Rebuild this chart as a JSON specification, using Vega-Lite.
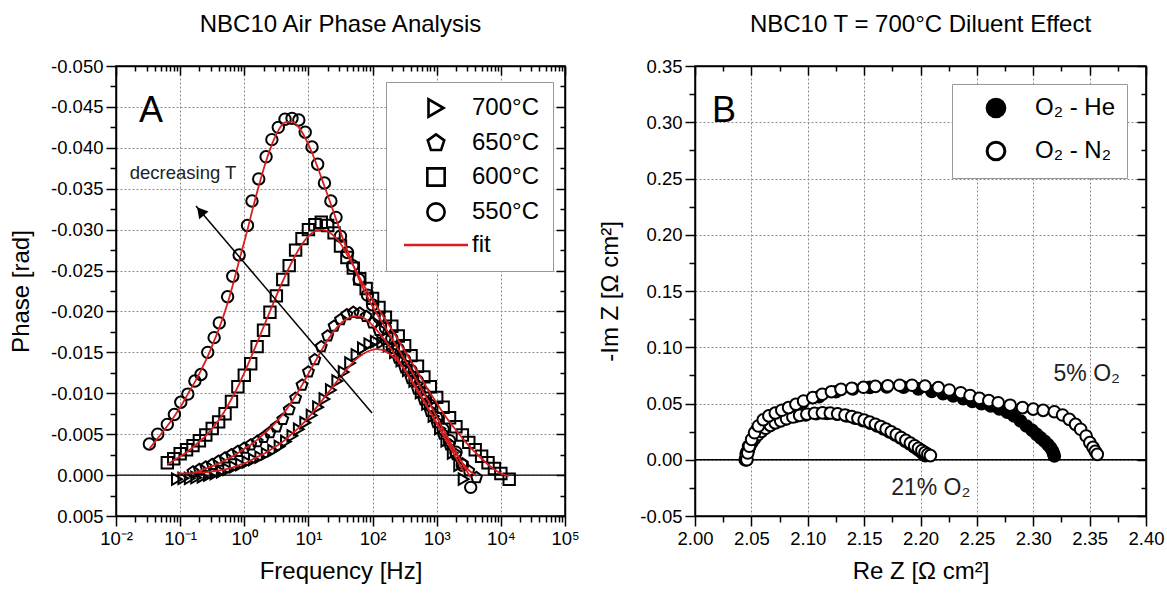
{
  "$schema": "https://vega.github.io/schema/vega-lite/v6.json",
  "padding": {"left": 8, "top": 12, "right": 2, "bottom": 5},
  "spacing": 18,
  "config": {
    "font": "Liberation Sans",
    "view": {"stroke": "black", "strokeWidth": 1.5},
    "axis": {
      "labelFont": "Liberation Sans", "labelFontSize": 18.5, "labelColor": "black",
      "titleFont": "Liberation Sans", "titleFontSize": 24, "titleFontWeight": "normal", "titleColor": "black",
      "domainColor": "black", "domainWidth": 1.5, "tickColor": "black", "tickWidth": 1.5,
      "gridColor": "#8a8a8a", "gridDash": [2, 2], "gridWidth": 1
    },
    "title": {"font": "Liberation Sans", "fontSize": 24, "fontWeight": "normal", "color": "black", "offset": 20},
    "legend": {"labelFont": "Liberation Sans", "labelColor": "black"}
  },
  "datasets": {
    "phase": [
      {"s":"700°C","f":0.0891,"p":0.0005,"fit":-0.0002},
      {"s":"700°C","f":0.1122,"p":0.0004,"fit":-0.0002},
      {"s":"700°C","f":0.1413,"p":0.0004,"fit":-0.0002},
      {"s":"700°C","f":0.1778,"p":0.0003,"fit":-0.0003},
      {"s":"700°C","f":0.2239,"p":0.0002,"fit":-0.0003},
      {"s":"700°C","f":0.2818,"p":0.0000,"fit":-0.0004},
      {"s":"700°C","f":0.3548,"p":-0.0002,"fit":-0.0005},
      {"s":"700°C","f":0.4467,"p":-0.0004,"fit":-0.0006},
      {"s":"700°C","f":0.5623,"p":-0.0007,"fit":-0.0008},
      {"s":"700°C","f":0.7079,"p":-0.0010,"fit":-0.0010},
      {"s":"700°C","f":0.8913,"p":-0.0013,"fit":-0.0013},
      {"s":"700°C","f":1.122,"p":-0.0016,"fit":-0.0016},
      {"s":"700°C","f":1.413,"p":-0.0019,"fit":-0.0020},
      {"s":"700°C","f":1.778,"p":-0.0022,"fit":-0.0024},
      {"s":"700°C","f":2.239,"p":-0.0026,"fit":-0.0028},
      {"s":"700°C","f":2.818,"p":-0.0030,"fit":-0.0033},
      {"s":"700°C","f":3.548,"p":-0.0035,"fit":-0.0038},
      {"s":"700°C","f":4.467,"p":-0.0041,"fit":-0.0044},
      {"s":"700°C","f":5.623,"p":-0.0048,"fit":-0.0051},
      {"s":"700°C","f":7.079,"p":-0.0056,"fit":-0.0058},
      {"s":"700°C","f":8.913,"p":-0.0064,"fit":-0.0066},
      {"s":"700°C","f":11.22,"p":-0.0073,"fit":-0.0075},
      {"s":"700°C","f":14.13,"p":-0.0083,"fit":-0.0085},
      {"s":"700°C","f":17.78,"p":-0.0093,"fit":-0.0095},
      {"s":"700°C","f":22.39,"p":-0.0104,"fit":-0.0105},
      {"s":"700°C","f":28.18,"p":-0.0115,"fit":-0.0115},
      {"s":"700°C","f":35.48,"p":-0.0126,"fit":-0.0125},
      {"s":"700°C","f":44.67,"p":-0.0137,"fit":-0.0134},
      {"s":"700°C","f":56.23,"p":-0.0147,"fit":-0.0142},
      {"s":"700°C","f":70.79,"p":-0.0155,"fit":-0.0148},
      {"s":"700°C","f":89.13,"p":-0.0160,"fit":-0.0152},
      {"s":"700°C","f":112.2,"p":-0.0163,"fit":-0.0154},
      {"s":"700°C","f":141.3,"p":-0.0162,"fit":-0.0153},
      {"s":"700°C","f":177.8,"p":-0.0158,"fit":-0.0149},
      {"s":"700°C","f":223.9,"p":-0.0150,"fit":-0.0143},
      {"s":"700°C","f":281.8,"p":-0.0140,"fit":-0.0134},
      {"s":"700°C","f":354.8,"p":-0.0128,"fit":-0.0123},
      {"s":"700°C","f":446.7,"p":-0.0115,"fit":-0.0111},
      {"s":"700°C","f":562.3,"p":-0.0101,"fit":-0.0098},
      {"s":"700°C","f":707.9,"p":-0.0087,"fit":-0.0084},
      {"s":"700°C","f":891.3,"p":-0.0072,"fit":-0.0070},
      {"s":"700°C","f":1122,"p":-0.0057,"fit":-0.0056},
      {"s":"700°C","f":1413,"p":-0.0042,"fit":-0.0042},
      {"s":"700°C","f":1778,"p":-0.0027,"fit":-0.0028},
      {"s":"700°C","f":2239,"p":-0.0012,"fit":-0.0014},
      {"s":"700°C","f":2630,"p":0.0005,"fit":-0.0004},

      {"s":"650°C","f":0.1585,"p":-0.0004,"fit":-0.0003},
      {"s":"650°C","f":0.1995,"p":-0.0007,"fit":-0.0005},
      {"s":"650°C","f":0.2512,"p":-0.0010,"fit":-0.0008},
      {"s":"650°C","f":0.3162,"p":-0.0013,"fit":-0.0011},
      {"s":"650°C","f":0.3981,"p":-0.0017,"fit":-0.0014},
      {"s":"650°C","f":0.5012,"p":-0.0021,"fit":-0.0018},
      {"s":"650°C","f":0.631,"p":-0.0025,"fit":-0.0022},
      {"s":"650°C","f":0.7943,"p":-0.0029,"fit":-0.0027},
      {"s":"650°C","f":1,"p":-0.0033,"fit":-0.0032},
      {"s":"650°C","f":1.259,"p":-0.0037,"fit":-0.0037},
      {"s":"650°C","f":1.585,"p":-0.0041,"fit":-0.0043},
      {"s":"650°C","f":1.995,"p":-0.0046,"fit":-0.0050},
      {"s":"650°C","f":2.512,"p":-0.0052,"fit":-0.0057},
      {"s":"650°C","f":3.162,"p":-0.0059,"fit":-0.0065},
      {"s":"650°C","f":3.981,"p":-0.0068,"fit":-0.0074},
      {"s":"650°C","f":5.012,"p":-0.0080,"fit":-0.0085},
      {"s":"650°C","f":6.31,"p":-0.0094,"fit":-0.0097},
      {"s":"650°C","f":7.943,"p":-0.0110,"fit":-0.0110},
      {"s":"650°C","f":10,"p":-0.0126,"fit":-0.0124},
      {"s":"650°C","f":12.59,"p":-0.0141,"fit":-0.0138},
      {"s":"650°C","f":15.85,"p":-0.0157,"fit":-0.0152},
      {"s":"650°C","f":19.95,"p":-0.0170,"fit":-0.0165},
      {"s":"650°C","f":25.12,"p":-0.0182,"fit":-0.0176},
      {"s":"650°C","f":31.62,"p":-0.0190,"fit":-0.0185},
      {"s":"650°C","f":39.81,"p":-0.0196,"fit":-0.0191},
      {"s":"650°C","f":50.12,"p":-0.0199,"fit":-0.0194},
      {"s":"650°C","f":63.1,"p":-0.0198,"fit":-0.0194},
      {"s":"650°C","f":79.43,"p":-0.0194,"fit":-0.0190},
      {"s":"650°C","f":100,"p":-0.0186,"fit":-0.0183},
      {"s":"650°C","f":125.9,"p":-0.0177,"fit":-0.0174},
      {"s":"650°C","f":158.5,"p":-0.0166,"fit":-0.0164},
      {"s":"650°C","f":199.5,"p":-0.0155,"fit":-0.0153},
      {"s":"650°C","f":251.2,"p":-0.0143,"fit":-0.0141},
      {"s":"650°C","f":316.2,"p":-0.0131,"fit":-0.0129},
      {"s":"650°C","f":398.1,"p":-0.0118,"fit":-0.0116},
      {"s":"650°C","f":501.2,"p":-0.0105,"fit":-0.0103},
      {"s":"650°C","f":631,"p":-0.0092,"fit":-0.0090},
      {"s":"650°C","f":794.3,"p":-0.0078,"fit":-0.0077},
      {"s":"650°C","f":1000,"p":-0.0064,"fit":-0.0064},
      {"s":"650°C","f":1259,"p":-0.0050,"fit":-0.0051},
      {"s":"650°C","f":1585,"p":-0.0037,"fit":-0.0038},
      {"s":"650°C","f":1995,"p":-0.0025,"fit":-0.0026},
      {"s":"650°C","f":2512,"p":-0.0014,"fit":-0.0015},
      {"s":"650°C","f":3162,"p":-0.0005,"fit":-0.0006},
      {"s":"650°C","f":4169,"p":0.0003,"fit":0.0001},

      {"s":"600°C","f":0.0631,"p":-0.0015,"fit":-0.0013},
      {"s":"600°C","f":0.0794,"p":-0.0020,"fit":-0.0018},
      {"s":"600°C","f":0.1,"p":-0.0026,"fit":-0.0023},
      {"s":"600°C","f":0.1259,"p":-0.0031,"fit":-0.0028},
      {"s":"600°C","f":0.1585,"p":-0.0036,"fit":-0.0034},
      {"s":"600°C","f":0.1995,"p":-0.0042,"fit":-0.0041},
      {"s":"600°C","f":0.2512,"p":-0.0049,"fit":-0.0048},
      {"s":"600°C","f":0.3162,"p":-0.0057,"fit":-0.0057},
      {"s":"600°C","f":0.3981,"p":-0.0065,"fit":-0.0067},
      {"s":"600°C","f":0.5012,"p":-0.0075,"fit":-0.0079},
      {"s":"600°C","f":0.631,"p":-0.0090,"fit":-0.0093},
      {"s":"600°C","f":0.7943,"p":-0.0108,"fit":-0.0108},
      {"s":"600°C","f":1,"p":-0.0122,"fit":-0.0125},
      {"s":"600°C","f":1.259,"p":-0.0136,"fit":-0.0143},
      {"s":"600°C","f":1.585,"p":-0.0157,"fit":-0.0162},
      {"s":"600°C","f":1.995,"p":-0.0177,"fit":-0.0181},
      {"s":"600°C","f":2.512,"p":-0.0199,"fit":-0.0200},
      {"s":"600°C","f":3.162,"p":-0.0219,"fit":-0.0219},
      {"s":"600°C","f":3.981,"p":-0.0239,"fit":-0.0237},
      {"s":"600°C","f":5.012,"p":-0.0256,"fit":-0.0254},
      {"s":"600°C","f":6.31,"p":-0.0275,"fit":-0.0269},
      {"s":"600°C","f":7.943,"p":-0.0289,"fit":-0.0282},
      {"s":"600°C","f":10,"p":-0.0300,"fit":-0.0292},
      {"s":"600°C","f":12.59,"p":-0.0306,"fit":-0.0298},
      {"s":"600°C","f":15.85,"p":-0.0309,"fit":-0.0300},
      {"s":"600°C","f":19.95,"p":-0.0305,"fit":-0.0298},
      {"s":"600°C","f":25.12,"p":-0.0296,"fit":-0.0292},
      {"s":"600°C","f":31.62,"p":-0.0280,"fit":-0.0283},
      {"s":"600°C","f":39.81,"p":-0.0266,"fit":-0.0270},
      {"s":"600°C","f":50.12,"p":-0.0253,"fit":-0.0256},
      {"s":"600°C","f":63.1,"p":-0.0240,"fit":-0.0241},
      {"s":"600°C","f":79.43,"p":-0.0228,"fit":-0.0227},
      {"s":"600°C","f":100,"p":-0.0216,"fit":-0.0214},
      {"s":"600°C","f":125.9,"p":-0.0205,"fit":-0.0202},
      {"s":"600°C","f":158.5,"p":-0.0193,"fit":-0.0190},
      {"s":"600°C","f":199.5,"p":-0.0182,"fit":-0.0178},
      {"s":"600°C","f":251.2,"p":-0.0170,"fit":-0.0165},
      {"s":"600°C","f":316.2,"p":-0.0158,"fit":-0.0152},
      {"s":"600°C","f":398.1,"p":-0.0146,"fit":-0.0139},
      {"s":"600°C","f":501.2,"p":-0.0133,"fit":-0.0126},
      {"s":"600°C","f":631,"p":-0.0120,"fit":-0.0113},
      {"s":"600°C","f":794.3,"p":-0.0108,"fit":-0.0100},
      {"s":"600°C","f":1000,"p":-0.0095,"fit":-0.0088},
      {"s":"600°C","f":1259,"p":-0.0083,"fit":-0.0076},
      {"s":"600°C","f":1585,"p":-0.0070,"fit":-0.0065},
      {"s":"600°C","f":1995,"p":-0.0059,"fit":-0.0055},
      {"s":"600°C","f":2512,"p":-0.0049,"fit":-0.0045},
      {"s":"600°C","f":3162,"p":-0.0040,"fit":-0.0036},
      {"s":"600°C","f":3981,"p":-0.0031,"fit":-0.0028},
      {"s":"600°C","f":5012,"p":-0.0023,"fit":-0.0020},
      {"s":"600°C","f":6310,"p":-0.0015,"fit":-0.0013},
      {"s":"600°C","f":7943,"p":-0.0008,"fit":-0.0007},
      {"s":"600°C","f":10000,"p":-0.0002,"fit":-0.0002},
      {"s":"600°C","f":13490,"p":0.0005,"fit":0.0001},

      {"s":"550°C","f":0.0331,"p":-0.0038,"fit":-0.0032},
      {"s":"550°C","f":0.0447,"p":-0.0050,"fit":-0.0045},
      {"s":"550°C","f":0.0631,"p":-0.0062,"fit":-0.0060},
      {"s":"550°C","f":0.0813,"p":-0.0074,"fit":-0.0072},
      {"s":"550°C","f":0.1023,"p":-0.0089,"fit":-0.0084},
      {"s":"550°C","f":0.1318,"p":-0.0099,"fit":-0.0099},
      {"s":"550°C","f":0.1698,"p":-0.0115,"fit":-0.0114},
      {"s":"550°C","f":0.2113,"p":-0.0123,"fit":-0.0128},
      {"s":"550°C","f":0.2692,"p":-0.0150,"fit":-0.0145},
      {"s":"550°C","f":0.3388,"p":-0.0168,"fit":-0.0164},
      {"s":"550°C","f":0.4074,"p":-0.0186,"fit":-0.0180},
      {"s":"550°C","f":0.5495,"p":-0.0218,"fit":-0.0210},
      {"s":"550°C","f":0.6607,"p":-0.0243,"fit":-0.0232},
      {"s":"550°C","f":0.8318,"p":-0.0269,"fit":-0.0262},
      {"s":"550°C","f":1.122,"p":-0.0305,"fit":-0.0300},
      {"s":"550°C","f":1.318,"p":-0.0335,"fit":-0.0322},
      {"s":"550°C","f":1.679,"p":-0.0362,"fit":-0.0353},
      {"s":"550°C","f":2.188,"p":-0.0389,"fit":-0.0384},
      {"s":"550°C","f":2.692,"p":-0.0410,"fit":-0.0404},
      {"s":"550°C","f":3.388,"p":-0.0425,"fit":-0.0421},
      {"s":"550°C","f":4.315,"p":-0.0435,"fit":-0.0431},
      {"s":"550°C","f":5.546,"p":-0.0436,"fit":-0.0432},
      {"s":"550°C","f":7.079,"p":-0.0434,"fit":-0.0425},
      {"s":"550°C","f":8.913,"p":-0.0419,"fit":-0.0412},
      {"s":"550°C","f":11.38,"p":-0.0401,"fit":-0.0394},
      {"s":"550°C","f":13.93,"p":-0.0380,"fit":-0.0376},
      {"s":"550°C","f":17.78,"p":-0.0357,"fit":-0.0353},
      {"s":"550°C","f":22.39,"p":-0.0335,"fit":-0.0331},
      {"s":"550°C","f":26.92,"p":-0.0315,"fit":-0.0313},
      {"s":"550°C","f":31.62,"p":-0.0292,"fit":-0.0297},
      {"s":"550°C","f":40.74,"p":-0.0272,"fit":-0.0274},
      {"s":"550°C","f":48.98,"p":-0.0256,"fit":-0.0258},
      {"s":"550°C","f":61.66,"p":-0.0239,"fit":-0.0239},
      {"s":"550°C","f":83.18,"p":-0.0220,"fit":-0.0218},
      {"s":"550°C","f":100,"p":-0.0208,"fit":-0.0206},
      {"s":"550°C","f":125.9,"p":-0.0193,"fit":-0.0193},
      {"s":"550°C","f":158.5,"p":-0.0180,"fit":-0.0180},
      {"s":"550°C","f":199.5,"p":-0.0167,"fit":-0.0167},
      {"s":"550°C","f":251.2,"p":-0.0154,"fit":-0.0154},
      {"s":"550°C","f":316.2,"p":-0.0141,"fit":-0.0141},
      {"s":"550°C","f":398.1,"p":-0.0128,"fit":-0.0128},
      {"s":"550°C","f":501.2,"p":-0.0115,"fit":-0.0114},
      {"s":"550°C","f":631,"p":-0.0100,"fit":-0.0100},
      {"s":"550°C","f":794.3,"p":-0.0085,"fit":-0.0086},
      {"s":"550°C","f":1000,"p":-0.0070,"fit":-0.0071},
      {"s":"550°C","f":1259,"p":-0.0056,"fit":-0.0056},
      {"s":"550°C","f":1585,"p":-0.0042,"fit":-0.0042},
      {"s":"550°C","f":1995,"p":-0.0028,"fit":-0.0028},
      {"s":"550°C","f":2512,"p":-0.0012,"fit":-0.0014},
      {"s":"550°C","f":3388,"p":0.0015,"fit":0.0003}
    ],
    "nyq": [
      {"g":"O₂ - He","c":"21%","re":2.0445,"im":0.0000},
      {"g":"O₂ - He","c":"21%","re":2.0455,"im":0.0060},
      {"g":"O₂ - He","c":"21%","re":2.0475,"im":0.0120},
      {"g":"O₂ - He","c":"21%","re":2.0505,"im":0.0175},
      {"g":"O₂ - He","c":"21%","re":2.0545,"im":0.0225},
      {"g":"O₂ - He","c":"21%","re":2.0595,"im":0.0268},
      {"g":"O₂ - He","c":"21%","re":2.0655,"im":0.0305},
      {"g":"O₂ - He","c":"21%","re":2.0725,"im":0.0337},
      {"g":"O₂ - He","c":"21%","re":2.0805,"im":0.0363},
      {"g":"O₂ - He","c":"21%","re":2.0890,"im":0.0384},
      {"g":"O₂ - He","c":"21%","re":2.0980,"im":0.0399},
      {"g":"O₂ - He","c":"21%","re":2.1075,"im":0.0409},
      {"g":"O₂ - He","c":"21%","re":2.1170,"im":0.0411},
      {"g":"O₂ - He","c":"21%","re":2.1260,"im":0.0404},
      {"g":"O₂ - He","c":"21%","re":2.1345,"im":0.0390},
      {"g":"O₂ - He","c":"21%","re":2.1420,"im":0.0370},
      {"g":"O₂ - He","c":"21%","re":2.1490,"im":0.0348},
      {"g":"O₂ - He","c":"21%","re":2.1555,"im":0.0325},
      {"g":"O₂ - He","c":"21%","re":2.1615,"im":0.0300},
      {"g":"O₂ - He","c":"21%","re":2.1672,"im":0.0274},
      {"g":"O₂ - He","c":"21%","re":2.1725,"im":0.0247},
      {"g":"O₂ - He","c":"21%","re":2.1775,"im":0.0220},
      {"g":"O₂ - He","c":"21%","re":2.1822,"im":0.0193},
      {"g":"O₂ - He","c":"21%","re":2.1865,"im":0.0166},
      {"g":"O₂ - He","c":"21%","re":2.1905,"im":0.0140},
      {"g":"O₂ - He","c":"21%","re":2.1942,"im":0.0115},
      {"g":"O₂ - He","c":"21%","re":2.1975,"im":0.0092},
      {"g":"O₂ - He","c":"21%","re":2.2003,"im":0.0071},
      {"g":"O₂ - He","c":"21%","re":2.2025,"im":0.0052},
      {"g":"O₂ - He","c":"21%","re":2.2042,"im":0.0037},

      {"g":"O₂ - He","c":"5%","re":2.0460,"im":0.0000},
      {"g":"O₂ - He","c":"5%","re":2.0475,"im":0.0090},
      {"g":"O₂ - He","c":"5%","re":2.0505,"im":0.0180},
      {"g":"O₂ - He","c":"5%","re":2.0550,"im":0.0270},
      {"g":"O₂ - He","c":"5%","re":2.0620,"im":0.0350},
      {"g":"O₂ - He","c":"5%","re":2.0710,"im":0.0410},
      {"g":"O₂ - He","c":"5%","re":2.0820,"im":0.0455},
      {"g":"O₂ - He","c":"5%","re":2.0950,"im":0.0505},
      {"g":"O₂ - He","c":"5%","re":2.1100,"im":0.0560},
      {"g":"O₂ - He","c":"5%","re":2.1250,"im":0.0605},
      {"g":"O₂ - He","c":"5%","re":2.1400,"im":0.0630},
      {"g":"O₂ - He","c":"5%","re":2.1550,"im":0.0643},
      {"g":"O₂ - He","c":"5%","re":2.1700,"im":0.0648},
      {"g":"O₂ - He","c":"5%","re":2.1850,"im":0.0645},
      {"g":"O₂ - He","c":"5%","re":2.1980,"im":0.0630},
      {"g":"O₂ - He","c":"5%","re":2.2100,"im":0.0608},
      {"g":"O₂ - He","c":"5%","re":2.2200,"im":0.0588},
      {"g":"O₂ - He","c":"5%","re":2.2290,"im":0.0567},
      {"g":"O₂ - He","c":"5%","re":2.2380,"im":0.0543},
      {"g":"O₂ - He","c":"5%","re":2.2460,"im":0.0518},
      {"g":"O₂ - He","c":"5%","re":2.2540,"im":0.0498},
      {"g":"O₂ - He","c":"5%","re":2.2623,"im":0.0478},
      {"g":"O₂ - He","c":"5%","re":2.2700,"im":0.0452},
      {"g":"O₂ - He","c":"5%","re":2.2770,"im":0.0422},
      {"g":"O₂ - He","c":"5%","re":2.2830,"im":0.0390},
      {"g":"O₂ - He","c":"5%","re":2.2888,"im":0.0344},
      {"g":"O₂ - He","c":"5%","re":2.2940,"im":0.0300},
      {"g":"O₂ - He","c":"5%","re":2.2990,"im":0.0262},
      {"g":"O₂ - He","c":"5%","re":2.3030,"im":0.0226},
      {"g":"O₂ - He","c":"5%","re":2.3065,"im":0.0195},
      {"g":"O₂ - He","c":"5%","re":2.3100,"im":0.0165},
      {"g":"O₂ - He","c":"5%","re":2.3130,"im":0.0135},
      {"g":"O₂ - He","c":"5%","re":2.3154,"im":0.0107},
      {"g":"O₂ - He","c":"5%","re":2.3170,"im":0.0080},
      {"g":"O₂ - He","c":"5%","re":2.3180,"im":0.0055},
      {"g":"O₂ - He","c":"5%","re":2.3187,"im":0.0033},

      {"g":"O₂ - N₂","c":"21%","re":2.0448,"im":0.0000},
      {"g":"O₂ - N₂","c":"21%","re":2.0455,"im":0.0040},
      {"g":"O₂ - N₂","c":"21%","re":2.0468,"im":0.0080},
      {"g":"O₂ - N₂","c":"21%","re":2.0485,"im":0.0120},
      {"g":"O₂ - N₂","c":"21%","re":2.0505,"im":0.0155},
      {"g":"O₂ - N₂","c":"21%","re":2.0530,"im":0.0190},
      {"g":"O₂ - N₂","c":"21%","re":2.0558,"im":0.0222},
      {"g":"O₂ - N₂","c":"21%","re":2.0590,"im":0.0252},
      {"g":"O₂ - N₂","c":"21%","re":2.0627,"im":0.0280},
      {"g":"O₂ - N₂","c":"21%","re":2.0668,"im":0.0305},
      {"g":"O₂ - N₂","c":"21%","re":2.0712,"im":0.0327},
      {"g":"O₂ - N₂","c":"21%","re":2.0760,"im":0.0346},
      {"g":"O₂ - N₂","c":"21%","re":2.0812,"im":0.0364},
      {"g":"O₂ - N₂","c":"21%","re":2.0868,"im":0.0380},
      {"g":"O₂ - N₂","c":"21%","re":2.0928,"im":0.0394},
      {"g":"O₂ - N₂","c":"21%","re":2.0992,"im":0.0405},
      {"g":"O₂ - N₂","c":"21%","re":2.1060,"im":0.0413},
      {"g":"O₂ - N₂","c":"21%","re":2.1130,"im":0.0417},
      {"g":"O₂ - N₂","c":"21%","re":2.1200,"im":0.0415},
      {"g":"O₂ - N₂","c":"21%","re":2.1265,"im":0.0408},
      {"g":"O₂ - N₂","c":"21%","re":2.1330,"im":0.0397},
      {"g":"O₂ - N₂","c":"21%","re":2.1390,"im":0.0383},
      {"g":"O₂ - N₂","c":"21%","re":2.1445,"im":0.0368},
      {"g":"O₂ - N₂","c":"21%","re":2.1500,"im":0.0352},
      {"g":"O₂ - N₂","c":"21%","re":2.1550,"im":0.0335},
      {"g":"O₂ - N₂","c":"21%","re":2.1600,"im":0.0316},
      {"g":"O₂ - N₂","c":"21%","re":2.1648,"im":0.0295},
      {"g":"O₂ - N₂","c":"21%","re":2.1695,"im":0.0272},
      {"g":"O₂ - N₂","c":"21%","re":2.1740,"im":0.0248},
      {"g":"O₂ - N₂","c":"21%","re":2.1785,"im":0.0223},
      {"g":"O₂ - N₂","c":"21%","re":2.1828,"im":0.0198},
      {"g":"O₂ - N₂","c":"21%","re":2.1870,"im":0.0173},
      {"g":"O₂ - N₂","c":"21%","re":2.1910,"im":0.0148},
      {"g":"O₂ - N₂","c":"21%","re":2.1948,"im":0.0124},
      {"g":"O₂ - N₂","c":"21%","re":2.1982,"im":0.0102},
      {"g":"O₂ - N₂","c":"21%","re":2.2012,"im":0.0082},
      {"g":"O₂ - N₂","c":"21%","re":2.2040,"im":0.0064},
      {"g":"O₂ - N₂","c":"21%","re":2.2065,"im":0.0049},
      {"g":"O₂ - N₂","c":"21%","re":2.2088,"im":0.0037},

      {"g":"O₂ - N₂","c":"5%","re":2.0460,"im":0.0000},
      {"g":"O₂ - N₂","c":"5%","re":2.0468,"im":0.0060},
      {"g":"O₂ - N₂","c":"5%","re":2.0482,"im":0.0120},
      {"g":"O₂ - N₂","c":"5%","re":2.0502,"im":0.0180},
      {"g":"O₂ - N₂","c":"5%","re":2.0528,"im":0.0240},
      {"g":"O₂ - N₂","c":"5%","re":2.0562,"im":0.0300},
      {"g":"O₂ - N₂","c":"5%","re":2.0605,"im":0.0355},
      {"g":"O₂ - N₂","c":"5%","re":2.0655,"im":0.0390},
      {"g":"O₂ - N₂","c":"5%","re":2.0712,"im":0.0415},
      {"g":"O₂ - N₂","c":"5%","re":2.0770,"im":0.0440},
      {"g":"O₂ - N₂","c":"5%","re":2.0830,"im":0.0463},
      {"g":"O₂ - N₂","c":"5%","re":2.0895,"im":0.0493},
      {"g":"O₂ - N₂","c":"5%","re":2.0963,"im":0.0522},
      {"g":"O₂ - N₂","c":"5%","re":2.1045,"im":0.0552},
      {"g":"O₂ - N₂","c":"5%","re":2.1129,"im":0.0582},
      {"g":"O₂ - N₂","c":"5%","re":2.1210,"im":0.0605},
      {"g":"O₂ - N₂","c":"5%","re":2.1295,"im":0.0626},
      {"g":"O₂ - N₂","c":"5%","re":2.1390,"im":0.0636},
      {"g":"O₂ - N₂","c":"5%","re":2.1494,"im":0.0644},
      {"g":"O₂ - N₂","c":"5%","re":2.1600,"im":0.0652},
      {"g":"O₂ - N₂","c":"5%","re":2.1710,"im":0.0658},
      {"g":"O₂ - N₂","c":"5%","re":2.1815,"im":0.0662},
      {"g":"O₂ - N₂","c":"5%","re":2.1925,"im":0.0662},
      {"g":"O₂ - N₂","c":"5%","re":2.2040,"im":0.0654},
      {"g":"O₂ - N₂","c":"5%","re":2.2158,"im":0.0641},
      {"g":"O₂ - N₂","c":"5%","re":2.2255,"im":0.0620},
      {"g":"O₂ - N₂","c":"5%","re":2.2357,"im":0.0596},
      {"g":"O₂ - N₂","c":"5%","re":2.2440,"im":0.0571},
      {"g":"O₂ - N₂","c":"5%","re":2.2523,"im":0.0546},
      {"g":"O₂ - N₂","c":"5%","re":2.2606,"im":0.0526},
      {"g":"O₂ - N₂","c":"5%","re":2.2689,"im":0.0507},
      {"g":"O₂ - N₂","c":"5%","re":2.2795,"im":0.0485},
      {"g":"O₂ - N₂","c":"5%","re":2.2905,"im":0.0463},
      {"g":"O₂ - N₂","c":"5%","re":2.3000,"im":0.0450},
      {"g":"O₂ - N₂","c":"5%","re":2.3088,"im":0.0439},
      {"g":"O₂ - N₂","c":"5%","re":2.3187,"im":0.0427},
      {"g":"O₂ - N₂","c":"5%","re":2.3260,"im":0.0398},
      {"g":"O₂ - N₂","c":"5%","re":2.3320,"im":0.0359},
      {"g":"O₂ - N₂","c":"5%","re":2.3375,"im":0.0315},
      {"g":"O₂ - N₂","c":"5%","re":2.3420,"im":0.0271},
      {"g":"O₂ - N₂","c":"5%","re":2.3469,"im":0.0211},
      {"g":"O₂ - N₂","c":"5%","re":2.3502,"im":0.0152},
      {"g":"O₂ - N₂","c":"5%","re":2.3530,"im":0.0110},
      {"g":"O₂ - N₂","c":"5%","re":2.3550,"im":0.0075},
      {"g":"O₂ - N₂","c":"5%","re":2.3568,"im":0.0048}
    ]
  },
  "resolve": {
    "scale": {"shape": "independent", "stroke": "independent", "fill": "independent"},
    "legend": {"shape": "independent", "stroke": "independent", "fill": "independent"}
  },
  "hconcat": [
    {
      "width": 449,
      "height": 450,
      "title": {"text": "NBC10 Air Phase Analysis", "anchor": "middle", "frame": "group"},
      "resolve": {"axis": {"x": "independent", "y": "independent"}},
      "layer": [
        {
          "data": {"values": [{"p": 0}]},
          "mark": {"type": "rule", "color": "black", "strokeWidth": 1.3},
          "encoding": {
            "y": {"field": "p", "type": "quantitative", "axis": null}
          }
        },
        {
          "data": {"name": "phase"},
          "mark": {"type": "point", "filled": false, "strokeWidth": 2, "size": 130, "opacity": 1},
          "encoding": {
            "x": {
              "field": "f", "type": "quantitative",
              "scale": {"type": "log", "domain": [0.01, 100000], "nice": false},
              "axis": {
                "title": "Frequency [Hz]", "titlePadding": 12,
                "values": [0.01,0.02,0.03,0.04,0.05,0.06,0.07,0.08,0.09,0.1,0.2,0.3,0.4,0.5,0.6,0.7,0.8,0.9,1,2,3,4,5,6,7,8,9,10,20,30,40,50,60,70,80,90,100,200,300,400,500,600,700,800,900,1000,2000,3000,4000,5000,6000,7000,8000,9000,10000,20000,30000,40000,50000,60000,70000,80000,90000,100000],
                "labelExpr": "abs(log(datum.value)/LN10 - round(log(datum.value)/LN10)) < 0.001 ? ['10⁻²','10⁻¹','10⁰','10¹','10²','10³','10⁴','10⁵'][round(log(datum.value)/LN10)+2] : ''",
                "labelPadding": 3, "labelFlush": false, "labelOverlap": false,
                "grid": true,
                "gridOpacity": {"condition": {"test": "abs(log(datum.value)/LN10 - round(log(datum.value)/LN10)) < 0.001", "value": 1}, "value": 0},
                "tickSize": {"condition": {"test": "abs(log(datum.value)/LN10 - round(log(datum.value)/LN10)) < 0.001", "value": 10}, "value": 6}
              }
            },
            "y": {
              "field": "p", "type": "quantitative",
              "scale": {"domain": [-0.05, 0.005], "reverse": true, "nice": false, "zero": false},
              "axis": {
                "title": "Phase [rad]", "titlePadding": 17,
                "values": [-0.05,-0.0475,-0.045,-0.0425,-0.04,-0.0375,-0.035,-0.0325,-0.03,-0.0275,-0.025,-0.0225,-0.02,-0.0175,-0.015,-0.0125,-0.01,-0.0075,-0.005,-0.0025,0,0.0025,0.005],
                "labelExpr": "abs(datum.value*200 - round(datum.value*200)) < 0.001 ? replace(format(datum.value, '.3f'), '−', '-') : ''",
                "labelPadding": 3, "labelOverlap": false,
                "grid": true,
                "gridOpacity": {"condition": {"test": "abs(datum.value*200 - round(datum.value*200)) < 0.001", "value": 1}, "value": 0},
                "tickSize": {"condition": {"test": "abs(datum.value*200 - round(datum.value*200)) < 0.001", "value": 10}, "value": 6}
              }
            },
            "shape": {
              "field": "s", "type": "nominal",
              "scale": {
                "domain": ["700°C", "650°C", "600°C", "550°C", "fit"],
                "range": ["triangle-right", "M0,-1L0.951,-0.309L0.588,0.809L-0.588,0.809L-0.951,-0.309Z", "square", "circle", "M-3.7,0L3.7,0"]
              },
              "legend": {
                "title": null, "orient": "none", "legendX": 270, "legendY": 16,
                "padding": 14, "strokeColor": "#999", "fillColor": "white",
                "symbolSize": 300, "symbolStrokeWidth": 2.6, "symbolOffset": 24, "labelOffset": 24,
                "labelFontSize": 24, "rowPadding": 7, "symbolType": "circle"
              }
            },
            "stroke": {
              "field": "s", "type": "nominal",
              "scale": {
                "domain": ["700°C", "650°C", "600°C", "550°C", "fit"],
                "range": ["black", "black", "black", "black", "#d81e1e"]
              },
              "legend": {
                "title": null, "orient": "none", "legendX": 270, "legendY": 16,
                "padding": 14, "strokeColor": "#999", "fillColor": "white",
                "symbolSize": 300, "symbolStrokeWidth": 2.6, "symbolOffset": 24, "labelOffset": 24,
                "labelFontSize": 24, "rowPadding": 7
              }
            }
          }
        },
        {
          "data": {"name": "phase"},
          "mark": {"type": "line", "color": "#d81e1e", "strokeWidth": 1.8, "interpolate": "monotone"},
          "encoding": {
            "x": {"field": "f", "type": "quantitative", "axis": null},
            "y": {"field": "fit", "type": "quantitative", "axis": null},
            "detail": {"field": "s", "type": "nominal"}
          }
        },
        {
          "data": {"values": [{"f": 98, "p": -0.00759, "f2": 0.1767, "p2": -0.0329}]},
          "mark": {"type": "rule", "color": "black", "strokeWidth": 1.5},
          "encoding": {
            "x": {"field": "f", "type": "quantitative", "axis": null},
            "y": {"field": "p", "type": "quantitative", "axis": null},
            "x2": {"field": "f2"},
            "y2": {"field": "p2"}
          }
        },
        {
          "data": {"values": [{"f": 0.2075, "p": -0.03224}]},
          "mark": {"type": "point", "shape": "triangle-up", "filled": true, "color": "black", "size": 150, "angle": 320, "opacity": 1},
          "encoding": {
            "x": {"field": "f", "type": "quantitative", "axis": null},
            "y": {"field": "p", "type": "quantitative", "axis": null}
          }
        },
        {
          "data": {"values": [{"f": 0.0229, "p": -0.0445, "t": "A"}]},
          "mark": {"type": "text", "fontSize": 36, "align": "left", "baseline": "middle", "color": "black"},
          "encoding": {
            "x": {"field": "f", "type": "quantitative", "axis": null},
            "y": {"field": "p", "type": "quantitative", "axis": null},
            "text": {"field": "t"}
          }
        },
        {
          "data": {"values": [{"f": 0.111, "p": -0.0369, "t": "decreasing T"}]},
          "mark": {"type": "text", "fontSize": 18.5, "align": "center", "baseline": "middle", "color": "#222"},
          "encoding": {
            "x": {"field": "f", "type": "quantitative", "axis": null},
            "y": {"field": "p", "type": "quantitative", "axis": null},
            "text": {"field": "t"}
          }
        },
        {
          "data": {"values": [{"f": 1, "p": 0}]},
          "mark": {"type": "point", "opacity": 0},
          "encoding": {
            "x": {
              "field": "f", "type": "quantitative",
              "axis": {
                "orient": "top", "title": null, "labels": false, "grid": false,
                "values": [0.01,0.02,0.03,0.04,0.05,0.06,0.07,0.08,0.09,0.1,0.2,0.3,0.4,0.5,0.6,0.7,0.8,0.9,1,2,3,4,5,6,7,8,9,10,20,30,40,50,60,70,80,90,100,200,300,400,500,600,700,800,900,1000,2000,3000,4000,5000,6000,7000,8000,9000,10000,20000,30000,40000,50000,60000,70000,80000,90000,100000],
                "tickSize": {"condition": {"test": "abs(log(datum.value)/LN10 - round(log(datum.value)/LN10)) < 0.001", "value": -9}, "value": -5}
              }
            },
            "y": {
              "field": "p", "type": "quantitative",
              "axis": {
                "orient": "right", "title": null, "labels": false, "grid": false,
                "values": [-0.05,-0.0475,-0.045,-0.0425,-0.04,-0.0375,-0.035,-0.0325,-0.03,-0.0275,-0.025,-0.0225,-0.02,-0.0175,-0.015,-0.0125,-0.01,-0.0075,-0.005,-0.0025,0,0.0025,0.005],
                "tickSize": {"condition": {"test": "abs(datum.value*200 - round(datum.value*200)) < 0.001", "value": -9}, "value": -5}
              }
            }
          }
        }
      ]
    },
    {
      "width": 451,
      "height": 450,
      "title": {"text": "NBC10 T = 700°C Diluent Effect", "anchor": "middle", "frame": "group"},
      "resolve": {"axis": {"x": "independent", "y": "independent"}},
      "layer": [
        {
          "data": {"values": [{"im": 0}]},
          "mark": {"type": "rule", "color": "black", "strokeWidth": 1.3},
          "encoding": {
            "y": {"field": "im", "type": "quantitative", "axis": null}
          }
        },
        {
          "data": {"name": "nyq"},
          "mark": {"type": "point", "filled": true, "stroke": "black", "strokeWidth": 2, "size": 135, "opacity": 1},
          "encoding": {
            "x": {
              "field": "re", "type": "quantitative",
              "scale": {"domain": [2.0, 2.4], "nice": false, "zero": false},
              "axis": {
                "title": "Re Z [Ω cm²]", "titlePadding": 12,
                "values": [2.0,2.025,2.05,2.075,2.1,2.125,2.15,2.175,2.2,2.225,2.25,2.275,2.3,2.325,2.35,2.375,2.4],
                "labelExpr": "abs(datum.value*20 - round(datum.value*20)) < 0.001 ? format(datum.value, '.2f') : ''",
                "labelPadding": 3, "labelFlush": false, "labelOverlap": false,
                "grid": true,
                "gridOpacity": {"condition": {"test": "abs(datum.value*20 - round(datum.value*20)) < 0.001", "value": 1}, "value": 0},
                "tickSize": {"condition": {"test": "abs(datum.value*20 - round(datum.value*20)) < 0.001", "value": 10}, "value": 6}
              }
            },
            "y": {
              "field": "im", "type": "quantitative",
              "scale": {"domain": [-0.05, 0.35], "nice": false, "zero": false},
              "axis": {
                "title": "-Im Z [Ω cm²]", "titlePadding": 17,
                "values": [-0.05,-0.025,0,0.025,0.05,0.075,0.1,0.125,0.15,0.175,0.2,0.225,0.25,0.275,0.3,0.325,0.35],
                "labelExpr": "abs(datum.value*20 - round(datum.value*20)) < 0.001 ? replace(format(datum.value, '.2f'), '−', '-') : ''",
                "labelPadding": 3, "labelOverlap": false,
                "grid": true,
                "gridOpacity": {"condition": {"test": "abs(datum.value*20 - round(datum.value*20)) < 0.001", "value": 1}, "value": 0},
                "tickSize": {"condition": {"test": "abs(datum.value*20 - round(datum.value*20)) < 0.001", "value": 10}, "value": 6}
              }
            },
            "fill": {
              "field": "g", "type": "nominal",
              "scale": {"domain": ["O₂ - He", "O₂ - N₂"], "range": ["black", "white"]},
              "legend": {
                "title": null, "orient": "none", "legendX": 257, "legendY": 18,
                "padding": 12, "strokeColor": "#999", "fillColor": "white",
                "symbolType": "circle", "symbolSize": 314, "symbolStrokeColor": "black", "symbolStrokeWidth": 3,
                "symbolOffset": 20, "labelOffset": 27, "labelFontSize": 24, "rowPadding": 13
              }
            }
          }
        },
        {
          "data": {"values": [{"re": 2.015, "im": 0.31, "t": "B"}]},
          "mark": {"type": "text", "fontSize": 36, "align": "left", "baseline": "middle", "color": "black"},
          "encoding": {
            "x": {"field": "re", "type": "quantitative", "axis": null},
            "y": {"field": "im", "type": "quantitative", "axis": null},
            "text": {"field": "t"}
          }
        },
        {
          "data": {"values": [{"re": 2.318, "im": 0.076, "t": "5% O₂"}, {"re": 2.174, "im": -0.025, "t": "21% O₂"}]},
          "mark": {"type": "text", "fontSize": 23, "align": "left", "baseline": "middle", "color": "#222"},
          "encoding": {
            "x": {"field": "re", "type": "quantitative", "axis": null},
            "y": {"field": "im", "type": "quantitative", "axis": null},
            "text": {"field": "t"}
          }
        },
        {
          "data": {"values": [{"re": 2.2, "im": 0}]},
          "mark": {"type": "point", "opacity": 0},
          "encoding": {
            "x": {
              "field": "re", "type": "quantitative",
              "axis": {
                "orient": "top", "title": null, "labels": false, "grid": false,
                "values": [2.0,2.025,2.05,2.075,2.1,2.125,2.15,2.175,2.2,2.225,2.25,2.275,2.3,2.325,2.35,2.375,2.4],
                "tickSize": {"condition": {"test": "abs(datum.value*20 - round(datum.value*20)) < 0.001", "value": -9}, "value": -5}
              }
            },
            "y": {
              "field": "im", "type": "quantitative",
              "axis": {
                "orient": "right", "title": null, "labels": false, "grid": false,
                "values": [-0.05,-0.025,0,0.025,0.05,0.075,0.1,0.125,0.15,0.175,0.2,0.225,0.25,0.275,0.3,0.325,0.35],
                "tickSize": {"condition": {"test": "abs(datum.value*20 - round(datum.value*20)) < 0.001", "value": -9}, "value": -5}
              }
            }
          }
        }
      ]
    }
  ]
}
